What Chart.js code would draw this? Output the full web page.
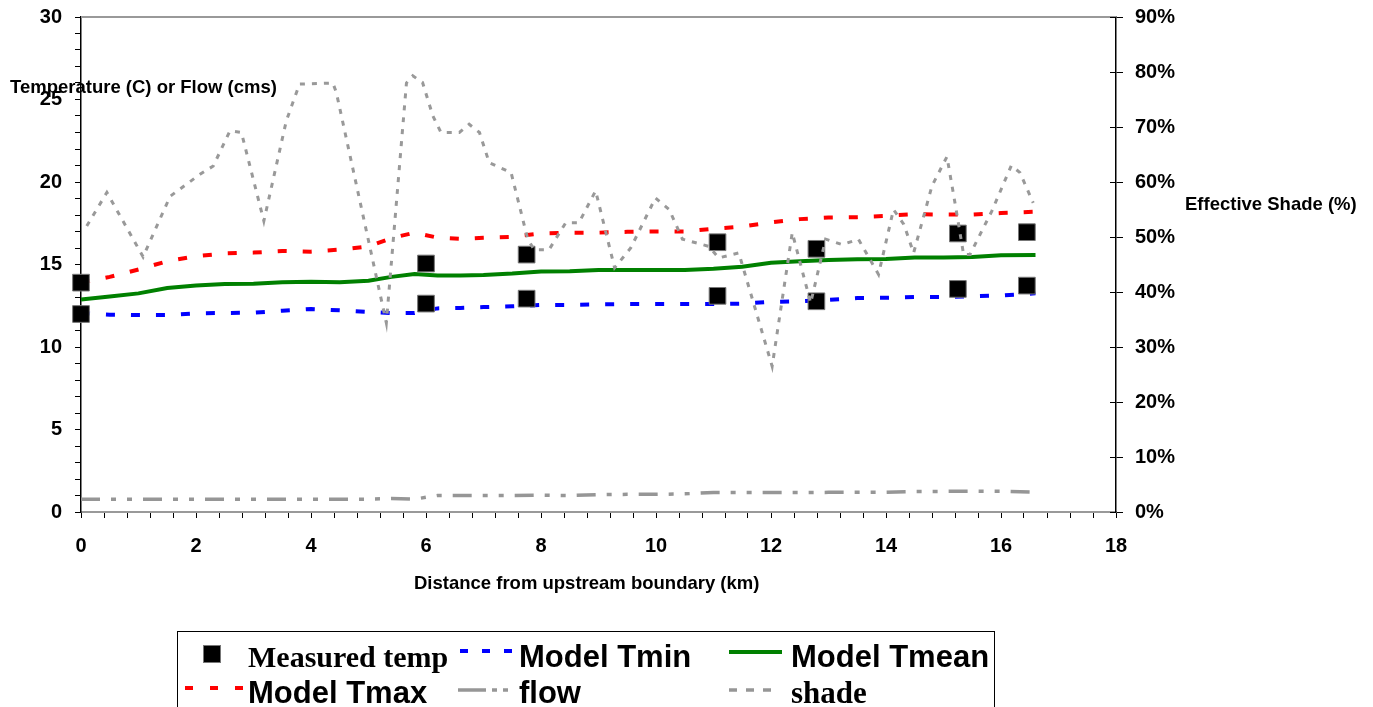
<!DOCTYPE html>
<html>

<head>
    <script src="https://cdn.jsdelivr.net/npm/chart.js@4.4.0/dist/chart.umd.min.js"></script>
    <style>
        body { margin: 0; overflow: hidden; background: #fff; }
        .lbl { position: absolute; white-space: nowrap; line-height: 1; color: #000; font-weight: bold; }
        .sans { font-family: "Liberation Sans", Arial, sans-serif; }
        .serif { font-family: "Liberation Serif", "Times New Roman", serif; }
        .title { font-size: 18.5px; }
        .big { font-size: 31px; }
        svg.sample { position: absolute; overflow: visible; }
    </style>
</head>

<body>
    <canvas id="myChart" width="1373" height="707"></canvas>

    <div class="lbl sans title" style="left:10px; top:78px;">Temperature (C) or Flow (cms)</div>
    <div class="lbl sans title" style="left:1185px; top:195px;">Effective Shade (%)</div>
    <div class="lbl sans title" style="left:414px; top:574px;">Distance from upstream boundary (km)</div>

    <!-- legend box (cut off by the bottom of the picture, as in the original) -->
    <div style="position:absolute; left:177px; top:631px; width:816px; height:120px; border:1px solid #000;"></div>
    <div style="position:absolute; left:203px; top:645px; width:16px; height:16px; background:#000; border:1px solid #777;"></div>
    <div class="lbl serif big" style="left:248px; top:642px; font-size:30px;">Measured temp</div>
    <svg class="sample" style="left:0; top:0;" width="1" height="1">
        <line x1="460" y1="651" x2="512" y2="651" stroke="#0000ff" stroke-width="4" stroke-dasharray="8 14" />
        <line x1="729" y1="652" x2="782" y2="652" stroke="#008000" stroke-width="4" />
        <line x1="185" y1="688" x2="243" y2="688" stroke="#ff0000" stroke-width="4" stroke-dasharray="8 17" />
        <line x1="458" y1="690" x2="510" y2="690" stroke="#969696" stroke-width="3.5" stroke-dasharray="28 6 5 6 5 40" />
        <line x1="729" y1="690" x2="780" y2="690" stroke="#969696" stroke-width="3.5" stroke-dasharray="8 9" />
    </svg>
    <div class="lbl sans big" style="left:519px; top:641px;">Model Tmin</div>
    <div class="lbl sans big" style="left:791px; top:641px;">Model Tmean</div>
    <div class="lbl sans big" style="left:248px; top:677px;">Model Tmax</div>
    <div class="lbl sans big" style="left:519px; top:677px;">flow</div>
    <div class="lbl serif big" style="left:791px; top:677px;">shade</div>
</body>

<script>

    // measured temperatures (daily max and min at each site)
    const kmMeasured = [0, 0, 6.0, 6.0, 7.75, 7.75, 11.07, 11.07, 12.79, 12.79, 15.25, 15.25, 16.45, 16.45]
    const measuredTemp = [13.9, 12.0, 15.06, 12.63, 15.6, 12.93, 16.35, 13.1, 15.95, 12.77, 16.88, 13.52, 16.96, 13.72]

    // model output along the reach
    const kmModel = [0, 0.5, 1.0, 1.5, 2.0, 2.5, 3.0, 3.5, 4.0, 4.5, 5.0, 5.4, 5.8, 6.2, 6.6, 7.0, 7.5, 8.0,
        8.5, 9.0, 9.5, 10.0, 10.5, 11.0, 11.5, 12.0, 12.5, 13.0, 13.5, 14.0, 14.5, 15.0, 15.5, 16.0, 16.6]
    const modelTmin = [12.06, 11.96, 11.94, 11.94, 12.04, 12.06, 12.08, 12.2, 12.3, 12.22, 12.13, 12.06, 12.06,
        12.34, 12.37, 12.42, 12.47, 12.55, 12.55, 12.58, 12.6, 12.6, 12.6, 12.6, 12.63, 12.74, 12.77, 12.85,
        12.97, 12.98, 13.03, 13.03, 13.07, 13.12, 13.25]
    const modelTmean = [12.88, 13.06, 13.25, 13.58, 13.72, 13.82, 13.84, 13.92, 13.96, 13.92, 14.02, 14.25, 14.42,
        14.33, 14.33, 14.36, 14.45, 14.58, 14.59, 14.67, 14.67, 14.67, 14.67, 14.74, 14.86, 15.1, 15.2, 15.28,
        15.32, 15.34, 15.42, 15.42, 15.45, 15.56, 15.58]
    const modelTmax = [13.9, 14.25, 14.7, 15.2, 15.5, 15.67, 15.72, 15.82, 15.78, 15.9, 16.1, 16.6, 16.93,
        16.63, 16.56, 16.62, 16.68, 16.88, 16.93, 16.93, 16.98, 17.0, 17.0, 17.17, 17.3, 17.55, 17.75, 17.85,
        17.87, 17.95, 18.05, 18.03, 18.03, 18.12, 18.2]
    const flow = [0.78, 0.78, 0.78, 0.78, 0.78, 0.78, 0.78, 0.78, 0.78, 0.78, 0.78, 0.82, 0.78, 1.0, 1.0, 1.0,
        1.0, 1.02, 1.0, 1.05, 1.07, 1.07, 1.1, 1.18, 1.18, 1.18, 1.18, 1.19, 1.19, 1.2, 1.25, 1.25, 1.26, 1.25, 1.2]

    // effective shade (%), right axis
    const kmShade = [0.1, 0.45, 1.08, 1.55, 2.07, 2.3, 2.59, 2.79, 3.18, 3.57, 3.8, 4.38, 4.44, 5.31, 5.66,
        5.77, 5.94, 6.12, 6.26, 6.58, 6.75, 6.93, 7.1, 7.48, 7.77, 7.88, 8.14, 8.43, 8.66, 8.95, 9.28, 9.56,
        9.99, 10.23, 10.46, 10.92, 11.09, 11.44, 12.02, 12.37, 12.69, 12.95, 13.24, 13.52, 13.87, 14.13,
        14.31, 14.48, 14.8, 15.06, 15.2, 15.35, 15.46, 15.84, 16.18, 16.33, 16.56]
    const shade = [52, 58.1, 46.4, 57.4, 61.4, 62.9, 69.3, 69.0, 52.9, 71.1, 77.8, 78.0, 76.3, 34.4, 78.0,
        79.3, 78.1, 72.0, 69.0, 69.0, 70.5, 69.0, 63.5, 61.7, 49.6, 47.7, 47.7, 52.6, 52.6, 58.4, 44.4, 48.0,
        57.1, 55.0, 49.6, 48.3, 46.2, 47.1, 26.5, 50.8, 38.0, 49.6, 48.6, 49.6, 43.2, 55.0,
        52.3, 47.1, 59.3, 64.6, 56.2, 46.8, 46.8, 54.7, 63.0, 61.7, 56.2]

    const pts = (xs, ys) => xs.map((x, i) => ({ x: x, y: ys[i] }))

    const tickFont = { family: '"Liberation Sans", Arial, sans-serif', size: 20, weight: 'bold' }

    // fixed axis sizes so the plot area sits where the original one does
    const fitY = (w) => (s) => {
        s.width = w
        s.paddingTop = 0
        s.paddingBottom = 0
    }

    // top frame line and the inner half of the right axis ticks
    const framePlugin = {
        id: 'frame',
        afterDraw(chart) {
            const { ctx, chartArea: a, scales } = chart
            ctx.save()
            ctx.strokeStyle = '#999'
            ctx.lineWidth = 2
            ctx.beginPath()
            ctx.moveTo(a.left, a.top)
            ctx.lineTo(a.right, a.top)
            ctx.stroke()
            ctx.strokeStyle = '#000'
            ctx.lineWidth = 1
            scales.y2.ticks.forEach((t, i) => {
                const y = Math.round(scales.y2.getPixelForTick(i)) + 0.5
                ctx.beginPath()
                ctx.moveTo(a.right - 6, y)
                ctx.lineTo(a.right, y)
                ctx.stroke()
            })
            ctx.restore()
        }
    }

    const lineSet = (label, data, color, width, dash, axis, order) => ({
        label: label,
        data: data,
        borderColor: color,
        borderWidth: width,
        borderDash: dash,
        pointRadius: 0,
        fill: false,
        tension: 0,
        yAxisID: axis,
        order: order
    })

    const data = {
        datasets: [
            {
                label: 'Measured temp',
                data: pts(kmMeasured, measuredTemp),
                showLine: false,
                pointStyle: 'rect',
                pointRadius: 11.8,
                backgroundColor: '#000',
                borderColor: '#777',
                borderWidth: 1,
                yAxisID: 'y',
                clip: 14,
                order: 1
            },
            lineSet('Model Tmin', pts(kmModel, modelTmin), '#0000ff', 4, [9, 16], 'y', 2),
            lineSet('Model Tmean', pts(kmModel, modelTmean), '#008000', 4, [], 'y', 3),
            lineSet('Model Tmax', pts(kmModel, modelTmax), '#ff0000', 4, [9, 16], 'y', 4),
            lineSet('flow', pts(kmModel, flow), '#969696', 3.5, [19, 11, 5, 11, 5, 11], 'y', 5),
            lineSet('shade', pts(kmShade, shade), '#999999', 3, [5, 7], 'y2', 0)
        ]
    }

    const config = {
        type: 'line',
        data: data,
        plugins: [framePlugin],
        options: {
            responsive: false,
            animation: false,
            layout: { padding: { top: 17, left: 0, right: 0, bottom: 0 } },
            plugins: { legend: { display: false }, tooltip: { enabled: false } },
            scales: {
                x: {
                    type: 'linear',
                    min: 0,
                    max: 18,
                    afterFit: (s) => { s.height = 195 },
                    ticks: {
                        stepSize: 0.4,
                        autoSkip: false,
                        maxRotation: 0,
                        padding: 16,
                        color: '#000',
                        font: tickFont,
                        callback: (v) => (Number.isInteger(v) && v % 2 === 0 ? v : '')
                    },
                    grid: { drawOnChartArea: false, tickLength: 6, tickColor: '#000' },
                    border: { color: '#999', width: 2 }
                },
                y: {
                    position: 'left',
                    min: 0,
                    max: 30,
                    afterFit: fitY(81),
                    ticks: {
                        stepSize: 1,
                        autoSkip: false,
                        padding: 13,
                        color: '#000',
                        font: tickFont,
                        callback: (v) => (v % 5 === 0 ? v : '')
                    },
                    grid: { drawOnChartArea: false, tickLength: 6, tickColor: '#000' },
                    border: { color: '#000', width: 1.5 }
                },
                y2: {
                    position: 'right',
                    min: 0,
                    max: 90,
                    afterFit: fitY(257),
                    ticks: {
                        stepSize: 10,
                        autoSkip: false,
                        padding: 12,
                        color: '#000',
                        font: tickFont,
                        callback: (v) => v + '%'
                    },
                    grid: { drawOnChartArea: false, tickLength: 7, tickColor: '#000' },
                    border: { color: '#000', width: 1.5 }
                }
            }
        }
    }

    const myChart = new Chart(document.getElementById('myChart'), config)

</script>

</html>
